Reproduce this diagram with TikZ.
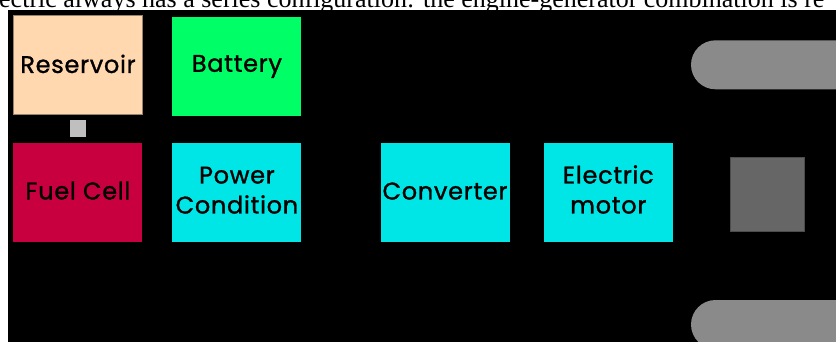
\documentclass[tikz,border=0pt]{standalone}
\usepackage{fontspec}
\setmainfont{Liberation Serif}
\newfontfamily\boxfont{Poppins}[FakeBold=1.2, LetterSpace=3]
\definecolor{peach}{HTML}{FFD8B0}
\definecolor{batgreen}{HTML}{00FF66}
\definecolor{fcred}{HTML}{C8003F}
\definecolor{pccyan}{HTML}{00E5E5}
\definecolor{pillgray}{HTML}{8A8A8A}
\definecolor{sqgray}{HTML}{666666}
\newcommand{\twolines}[2]{\begin{tabular}{@{}c@{}}#1\\#2\end{tabular}}
\tikzset{
  unitbox/.style={rectangle, draw=none, minimum width=129pt, minimum height=98.5pt,
    inner sep=0pt, align=center, text=black, font=\boxfont\fontsize{24}{30}\selectfont},
  pill/.style={fill=pillgray, draw=none, rounded corners=24.5pt},
}
\begin{document}
\begin{tikzpicture}[x=1pt,y=-1pt]
\useasboundingbox (0,0) rectangle (836,342);
\node[anchor=base west, inner sep=0pt, font=\fontsize{26}{30}\selectfont] (caption) at (-1,7.3)
  {ectric always has a series configuration: the engine-generator combination is re};
\fill[black] (8,10) rectangle (840,346);
\node[unitbox, fill=peach, draw=peach!60!black, line width=0.6pt, minimum width=129.2pt, minimum height=99.5pt] (res) at (78,64.8) {\raisebox{2pt}{Reservoir}};
\node[unitbox, fill=batgreen] (bat) at (236.9,66.5) {\raisebox{2pt}{Battery}};
\node[rectangle, fill=black!25, minimum width=16.5pt, minimum height=17.3pt, inner sep=0pt] (link) at (77.8,128.7) {};
\node[unitbox, fill=fcred] (fc) at (77.9,192.5) {\raisebox{4pt}{Fuel Cell}};
\node[unitbox, fill=pccyan] (pc) at (236.9,192.5) {\raisebox{6pt}{\twolines{Power}{Condition}}};
\node[unitbox, fill=pccyan] (conv) at (445,192.5) {\raisebox{3pt}{Converter}};
\node[unitbox, fill=pccyan] (motor) at (608.3,192.5) {\raisebox{3pt}{\twolines{Electric}{motor}}};
\node[rectangle, fill=sqgray, draw=black!70, line width=0.6pt, minimum width=74pt, minimum height=74.3pt, inner sep=0pt] (gear) at (767.3,194.2) {};
\fill[pill] (691,40.3) rectangle (900,89.3);
\fill[pill] (691,300) rectangle (900,349);
\end{tikzpicture}
\end{document}
